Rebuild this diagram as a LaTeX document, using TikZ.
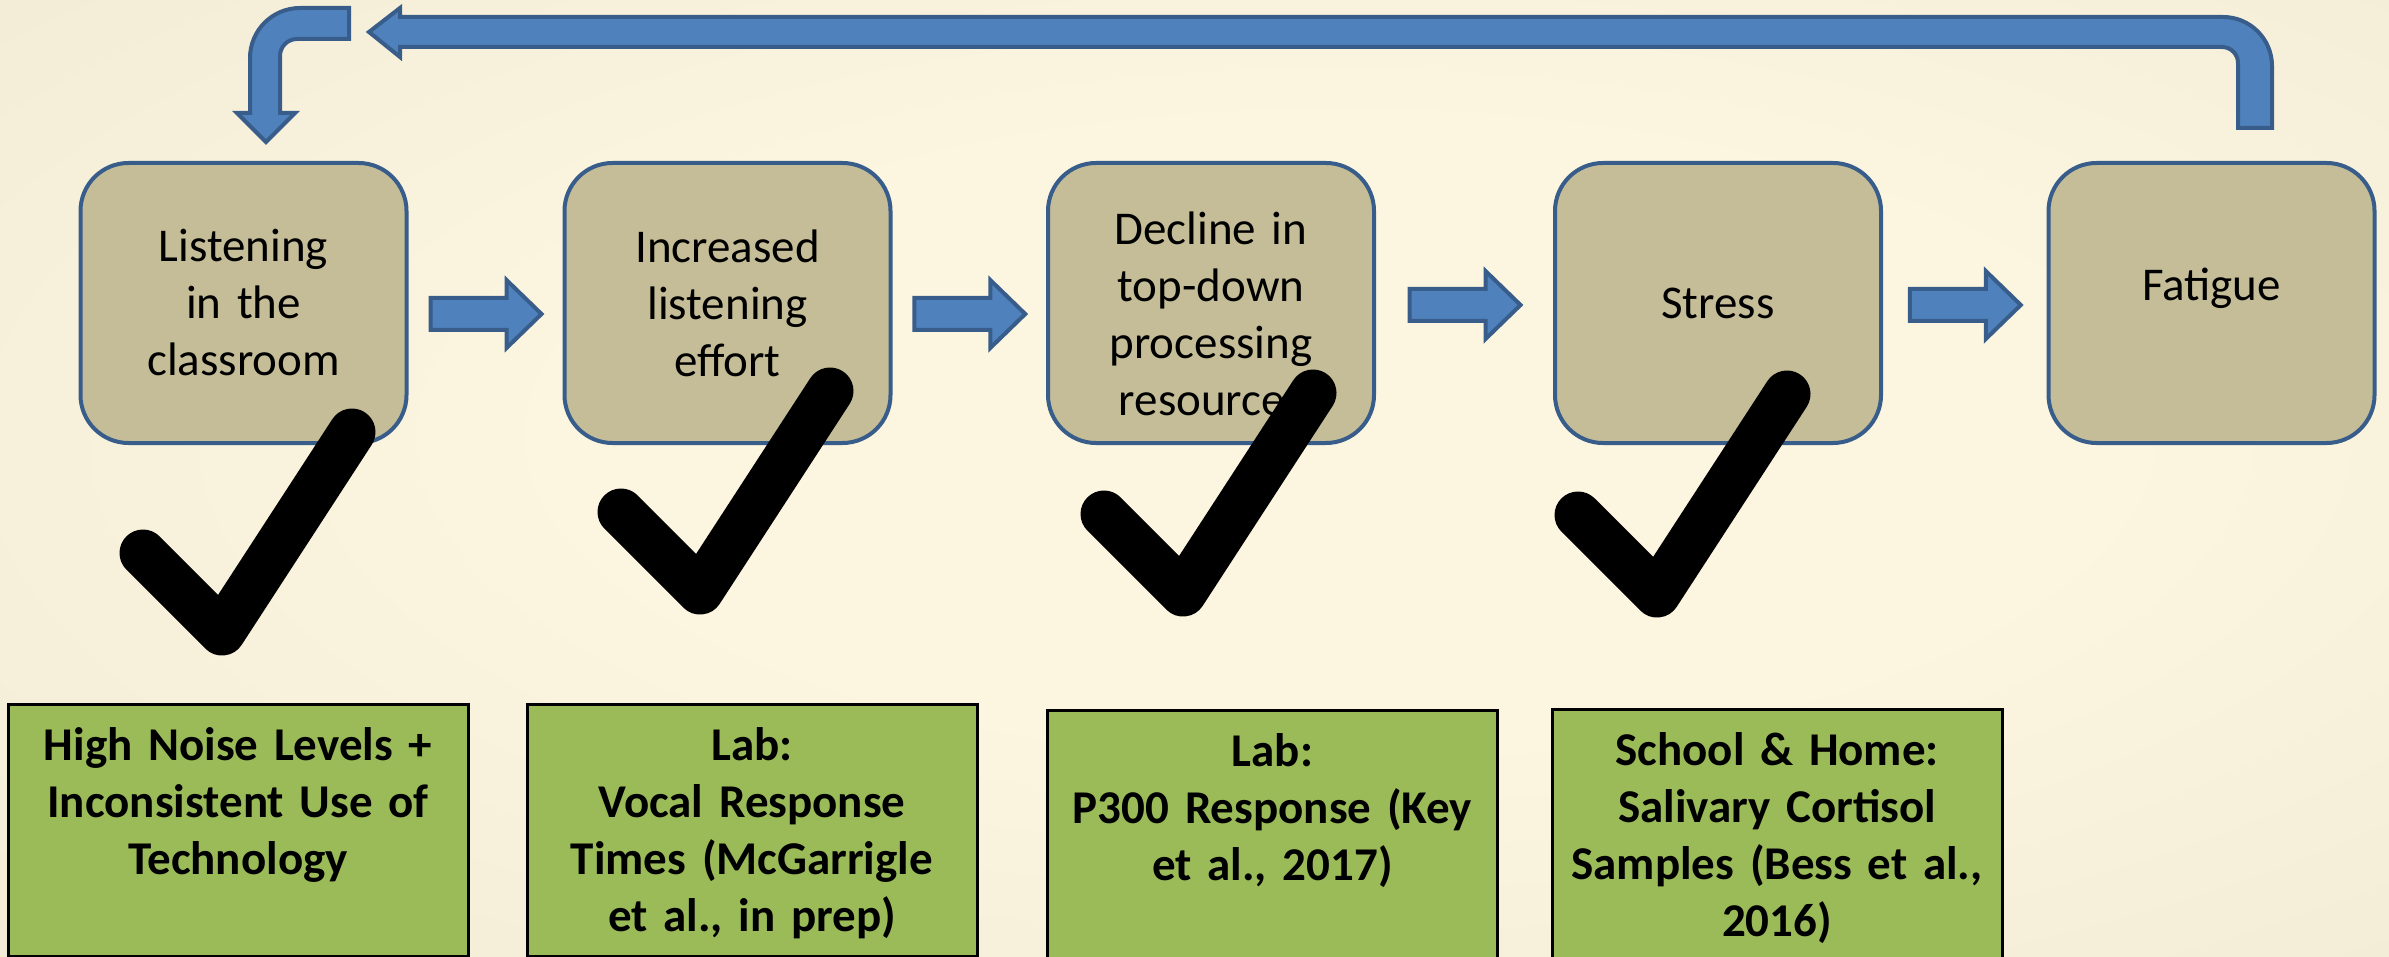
\documentclass[tikz,border=0pt]{standalone}
\usepackage{fontspec}
\setmainfont{Carlito}
\usepackage{tikz}
\usetikzlibrary{calc}
\definecolor{boxtan}{HTML}{C4BD97}
\definecolor{boxline}{HTML}{385D8A}
\definecolor{arrowblue}{HTML}{4F81BD}
\definecolor{evidgreen}{HTML}{9BBB59}
\definecolor{bgin}{HTML}{FCF6E0}
\definecolor{bgout}{HTML}{E2DCC7}
\pgfdeclareradialshading{bgglow}{\pgfpoint{4bp}{3bp}}{color(0bp)=(bgin); color(16bp)=(bgin); color(72bp)=(bgout)}
\newcommand\stagefont{\fontsize{47pt}{57pt}\selectfont}
\newcommand\evidfont{\bfseries\fontsize{47pt}{57pt}\selectfont}
\tikzset{
   stage/.style={rectangle, rounded corners=48pt, draw=boxline, line width=4pt, fill=boxtan,
                 minimum width=326pt, minimum height=280pt, text width=300pt, align=center,
                 inner sep=0pt, font=\stagefont},
   evidence/.style={rectangle, draw=black, line width=3pt, fill=evidgreen, anchor=north,
                 text width=440pt, align=center, inner xsep=5pt, inner ysep=16pt,
                 text height=40pt, text depth=180pt, font=\evidfont},
   flowarrow/.style={draw=boxline, line width=4pt, fill=arrowblue, line join=miter},
   checkmark/.style={black, line width=47pt, line cap=round, line join=round}
}
\begin{document}
\begin{tikzpicture}[x=1pt, y=-1pt]
\useasboundingbox (0,0) rectangle (2389,957);
\shade[shading=bgglow] (0,0) rectangle (2389,957);

% feedback arrow from fatigue back to the start
\draw[flowarrow] (2272,128) -- (2272,66) arc[start angle=0, end angle=-90, radius=49] -- (400,17) -- (400,8)
   -- (369,32) -- (400,57) -- (400,47) -- (2222,47) arc[start angle=-90, end angle=0, radius=16] -- (2238,128) -- cycle;
\draw[flowarrow] (349,8) -- (300,8) arc[start angle=-90, end angle=-180, radius=50] -- (250,113) -- (237,113)
   -- (266,142) -- (295,113) -- (280,113) -- (280,56) arc[start angle=180, end angle=270, radius=17] -- (349,39) -- cycle;

% stages
\node[stage] (b1) at (243.5,303) {Listening\\in the\\classroom};
\node[stage] (b2) at (727.5,303) {Increased\\listening\\effort};
\node[stage, text height=55pt] (b3) at (1211,303) {Decline in\\top-down\\processing\\resources};
\node[stage] (b4) at (1718,303) {Stress};
\node[stage, text depth=38pt] (b5) at (2211.5,303) {Fatigue};

\foreach \A/\B/\dy in {b1/b2/11,b2/b3/11,b3/b4/2,b4/b5/2}{
   \draw[flowarrow, shift={($(\A.east)!0.5!(\B.west)+(0,\dy)$)}] (-55,-16) -- (21,-16) -- (21,-34)
      -- (56,0) -- (21,34) -- (21,16) -- (-55,16) -- cycle;
}

% check marks
\foreach \X/\Y in {222/632,700/591,1183/593,1657/594}{
   \draw[checkmark] (\X-79,\Y-79) -- (\X,\Y) -- (\X+130,\Y-200);
}

% evidence
\node[evidence, text width=450pt] (e1) at (238,703) {High Noise Levels +\\Inconsistent Use of\\Technology};
\node[evidence] (e2) at (752,703) {Lab:\\Vocal Response\\Times (McGarrigle\\et al., in prep)};
\node[evidence] (e3) at (1272.5,709) {Lab:\\P300 Response (Key\\et al., 2017)};
\node[evidence] (e4) at (1777,708) {School \& Home:\\Salivary Cortisol\\Samples (Bess et al.,\\2016)};
\end{tikzpicture}
\end{document}
